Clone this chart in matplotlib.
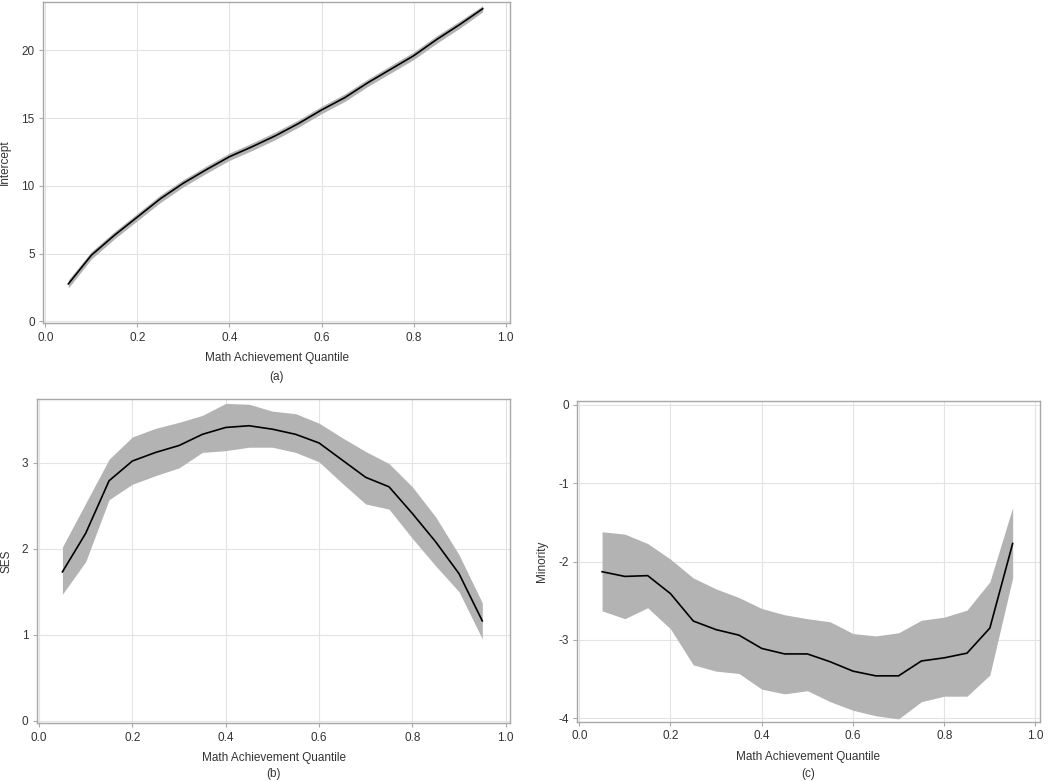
import matplotlib
matplotlib.use("Agg")
import matplotlib.pyplot as plt

plt.rcParams['font.family'] = ['Liberation Sans', 'DejaVu Sans']
plt.rcParams['axes.unicode_minus'] = False

## DATOS

cuantiles = [0.05, 0.10, 0.15, 0.20, 0.25, 0.30, 0.35, 0.40, 0.45, 0.50,
             0.55, 0.60, 0.65, 0.70, 0.75, 0.80, 0.85, 0.90, 0.95]

intercepto = [2.76, 4.88, 6.35, 7.7, 9.05, 10.2, 11.2, 12.15, 12.9, 13.7,
              14.6, 15.6, 16.5, 17.6, 18.6, 19.6, 20.8, 21.9, 23.07]
intercepto_sup = [3.06, 5.15, 6.62, 7.97, 9.33, 10.47, 11.47, 12.42, 13.18, 13.98,
                  14.87, 15.87, 16.78, 17.87, 18.88, 19.88, 21.08, 22.17, 23.3]
intercepto_inf = [2.46, 4.6, 6.08, 7.43, 8.77, 9.93, 10.93, 11.88, 12.62, 13.42,
                  14.33, 15.33, 16.22, 17.33, 18.32, 19.32, 20.52, 21.63, 22.84]

ses = [1.73, 2.18, 2.79, 3.02, 3.12, 3.20, 3.33, 3.41, 3.43, 3.39,
       3.33, 3.23, 3.03, 2.83, 2.72, 2.41, 2.08, 1.71, 1.16]
ses_sup = [2.02, 2.53, 3.04, 3.30, 3.40, 3.47, 3.55, 3.69, 3.68, 3.60,
           3.57, 3.46, 3.29, 3.13, 2.99, 2.72, 2.37, 1.93, 1.37]
ses_inf = [1.47, 1.85, 2.57, 2.75, 2.85, 2.94, 3.12, 3.14, 3.18, 3.18,
           3.12, 3.01, 2.76, 2.52, 2.46, 2.12, 1.80, 1.50, 0.95]

minoria = [-2.13, -2.19, -2.18, -2.41, -2.76, -2.87, -2.94, -3.11, -3.18, -3.18,
           -3.28, -3.40, -3.46, -3.46, -3.27, -3.23, -3.17, -2.85, -1.77]
minoria_sup = [-1.62, -1.65, -1.77, -1.97, -2.21, -2.35, -2.46, -2.60, -2.68, -2.73,
               -2.77, -2.92, -2.95, -2.91, -2.75, -2.71, -2.62, -2.26, -1.31]
minoria_inf = [-2.63, -2.73, -2.59, -2.86, -3.32, -3.40, -3.43, -3.63, -3.69, -3.65,
               -3.79, -3.90, -3.97, -4.01, -3.79, -3.72, -3.72, -3.45, -2.21]

xticks = [0.0, 0.2, 0.4, 0.6, 0.8, 1.0]
xlabels = ["0.0", "0.2", "0.4", "0.6", "0.8", "1.0"]

## FIGURA

W, H = 1050, 781
fig = plt.figure(figsize=(W / 100, H / 100), dpi=100)

# rect, y, inf, sup, ylabel, letra, ylim, yticks, x del ylabel (px), y de la letra (px)
paneles = [
    ([0.041, 0.586, 0.445, 0.412], intercepto, intercepto_inf, intercepto_sup,
     "Intercept", "(a)", (-0.15, 23.6), [0, 5, 10, 15, 20], 5, 377),
    ([0.035, 0.074, 0.451, 0.415], ses, ses_inf, ses_sup,
     "SES", "(b)", (-0.03, 3.74), [0, 1, 2, 3], 6, 774),
    ([0.5495, 0.0755, 0.441, 0.411], minoria, minoria_inf, minoria_sup,
     "Minority", "(c)", (-4.05, 0.05), [-4, -3, -2, -1, 0], 542, 774),
]

gris_marco = "#a8a8a8"
gris_texto = "#333333"

for pos, y, inf, sup, ylab, letra, ylim, yticks, ylab_px, letra_py in paneles:
    ax = fig.add_axes(pos)
    ax.fill_between(cuantiles, inf, sup, color="#b3b3b3", linewidth=0, zorder=2)
    ax.plot(cuantiles, y, color="black", linewidth=1.2, zorder=3)
    ax.set_xlim(-0.005, 1.01)
    ax.set_ylim(*ylim)
    ax.set_xticks(xticks)
    ax.set_xticklabels(xlabels)
    ax.set_yticks(yticks)
    ax.grid(True, color="#e3e3e3", linewidth=0.8, zorder=0)
    ax.set_axisbelow(True)
    for s in ax.spines.values():
        s.set_color(gris_marco)
        s.set_linewidth(1.0)
    ax.tick_params(axis="both", length=3, width=0.8, color=gris_marco,
                   labelsize=8.5, labelcolor=gris_texto, pad=3)
    ax.set_xlabel("Math Achievement Quantile", fontsize=8.5, color=gris_texto, labelpad=6)
    fig.text(ylab_px / W, pos[1] + pos[3] / 2, ylab, rotation=90, ha="center", va="center",
             fontsize=8.5, color=gris_texto)
    fig.text(pos[0] + pos[2] / 2, 1 - letra_py / H, letra, ha="center", va="center",
             fontsize=8.5, color=gris_texto)

fig.savefig("out.png", dpi=100)
